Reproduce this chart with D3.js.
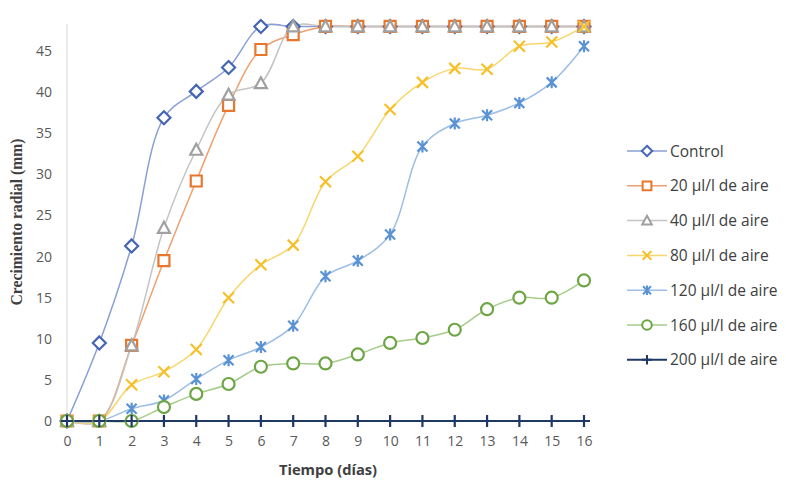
<!DOCTYPE html>
<html><head><meta charset="utf-8">
<script src="https://cdn.jsdelivr.net/npm/d3@7"></script>
<style>body{margin:0;background:#fff}svg{display:block}</style>
</head><body>
<svg id="c" width="786" height="482"></svg>
<script>
const days = [0,1,2,3,4,5,6,7,8,9,10,11,12,13,14,15,16];
const yTicks = [0,5,10,15,20,25,30,35,40,45];
const seriesNames = ["Control","20 µl/l de aire","40 µl/l de aire","80 µl/l de aire","120 µl/l de aire","160 µl/l de aire","200 µl/l de aire"];
const control = [0,9.5,21.3,36.9,40.1,43,48,48,48,48,48,48,48,48,48,48,48];
const s20  = [0,0,9.2,19.5,29.2,38.4,45.2,47,48,48,48,48,48,48,48,48,48];
const s40  = [0,0,9.2,23.5,33,39.7,41.1,48,48,48,48,48,48,48,48,48,48];
const s80  = [0,0,4.4,6,8.7,15,19,21.4,29.1,32.2,37.9,41.2,42.9,42.8,45.6,46.1,48];
const s120 = [0,0,1.5,2.5,5.1,7.4,9,11.6,17.6,19.5,22.7,33.4,36.2,37.2,38.7,41.2,45.6];
const s160 = [0,0,0,1.7,3.3,4.5,6.6,7,7,8.1,9.5,10.1,11.1,13.6,15,15,17.1];
const s200 = [0,0,0,0,0,0,0,0,0,0,0,0,0,0,0,0,0];
const seriesValues = [control,s20,s40,s80,s120,s160,s200];
const colors = ["#4565B5","#E8762D","#A0A0A0","#F5C02A","#5A92D3","#6DA544","#1F3864"];
const lineColors = ["#8A9FD6","#F0A070","#C4C4C4","#F8D66A","#9DBEE6","#A6CC8C","#1F3864"];
const shapes = ["diamond","square","triangle","x","star","circle","plus"];

const svg = d3.select("#c");
const x = d3.scaleLinear().domain([0,16]).range([67,584]);
const y = d3.scaleLinear().domain([0,48.3]).range([421,24]);

svg.append("line").attr("x1",x(0)).attr("x2",x(0)).attr("y1",y(48.3)).attr("y2",y(0))
  .attr("stroke","#d9d9d9").attr("stroke-width",1);
svg.append("line").attr("x1",x(0)).attr("x2",x(16)).attr("y1",y(0)).attr("y2",y(0))
  .attr("stroke","#d9d9d9").attr("stroke-width",1);

const yAxis = d3.axisLeft(y).tickValues(yTicks).tickSize(0).tickPadding(0);
const gy = svg.append("g").attr("transform","translate(52,0)").call(yAxis);
gy.select(".domain").remove();
gy.selectAll("text").attr("fill","#595959").style("font-family","'Open Sans',sans-serif").style("font-size","14px");

const xAxis = d3.axisBottom(x).tickValues(days).tickFormat(d3.format("d")).tickSize(0).tickPadding(0);
const gx = svg.append("g").attr("transform","translate(0,436)").call(xAxis);
gx.select(".domain").remove();
gx.selectAll("text").attr("fill","#595959").style("font-family","'Open Sans',sans-serif").style("font-size","14px");

svg.append("text").attr("x",328).attr("y",475).attr("text-anchor","middle")
  .attr("fill","#404040").style("font-family","'Open Sans',sans-serif").style("font-weight","bold").style("font-size","14.7px")
  .text("Tiempo (días)");
svg.append("text").attr("transform","translate(22,222) rotate(-90)").attr("text-anchor","middle")
  .attr("fill","#404040").style("font-family","'Liberation Serif',serif").style("font-weight","bold").style("font-size","15.7px")
  .text("Crecimiento radial (mm)");

function markerPath(shape){
  switch(shape){
    case "diamond": return "M0,-6.5L6.5,0L0,6.5L-6.5,0Z";
    case "square": return "M-5.5,-5.5H5.5V5.5H-5.5Z";
    case "triangle": return "M0,-6L6,5H-6Z";
    case "x": return "M-5.5,-5.5L5.5,5.5M5.5,-5.5L-5.5,5.5";
    case "star": return "M-5,-5L5,5M5,-5L-5,5M0,-6V6";
    case "circle": return "M6,0A6,6 0 1,1 -6,0A6,6 0 1,1 6,0Z";
    case "plus": return "M-6,0H6M0,-6V6";
  }
}
const fillable = {diamond:1,square:1,triangle:1,circle:1};

const line = d3.line().x((d,i)=>x(days[i])).y(d=>y(d)).curve(d3.curveCatmullRom.alpha(0.5));

seriesValues.forEach((vals,si)=>{
  svg.append("path").attr("d",line(vals)).attr("fill","none")
    .attr("stroke",lineColors[si]).attr("stroke-width", si===6?2:1.5);
});
seriesValues.forEach((vals,si)=>{
  const g = svg.append("g");
  g.selectAll("path").data(vals).join("path")
    .attr("transform",(d,i)=>`translate(${x(days[i])},${y(d)})`)
    .attr("d",markerPath(shapes[si]))
    .attr("fill", fillable[shapes[si]]?"#fff":"none")
    .attr("stroke",colors[si]).attr("stroke-width", 2.2);
});

const ly0 = 151, ldy = 34.8;
seriesNames.forEach((name,si)=>{
  const gy0 = ly0 + si*ldy;
  const g = svg.append("g").attr("transform",`translate(0,${gy0})`);
  g.append("line").attr("x1",627).attr("x2",667).attr("y1",0).attr("y2",0)
    .attr("stroke",lineColors[si]).attr("stroke-width", si===6?2:1.5);
  g.append("path").attr("transform","translate(647,0) scale(0.8)").attr("d",markerPath(shapes[si]))
    .attr("fill", fillable[shapes[si]]?"#fff":"none").attr("stroke",colors[si]).attr("stroke-width",2.5);
  g.append("text").attr("x",670).attr("y",5.5).attr("fill","#404040")
    .style("font-family","'Open Sans',sans-serif").style("font-size","15.5px").text(name);
});
</script>
</body></html>
